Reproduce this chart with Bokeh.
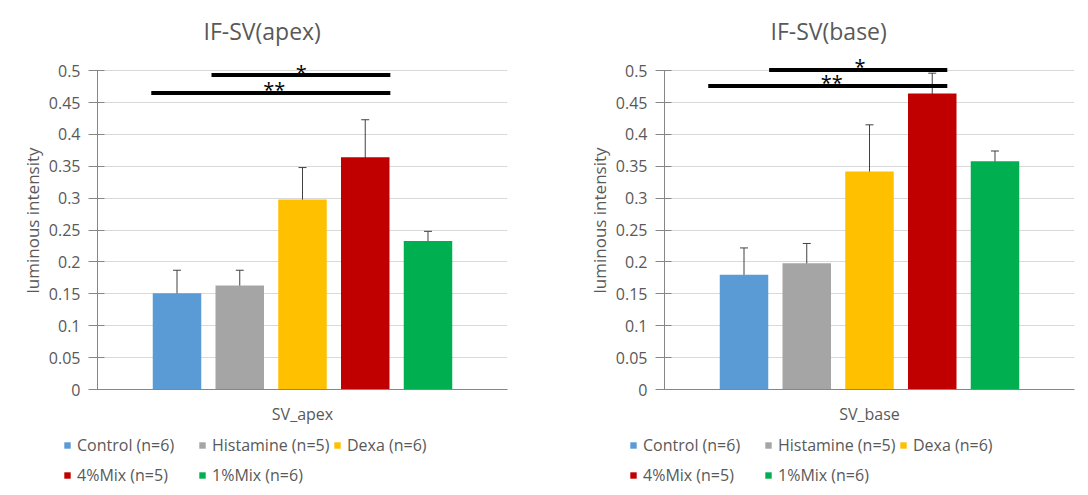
from bokeh.plotting import figure
from bokeh.layouts import row, column
from bokeh.models import (ColumnDataSource, Range1d, FixedTicker, Whisker, TeeHead,
                          Legend, LegendItem, CustomJSTickFormatter)
from bokeh.core.properties import value
from bokeh.embed import file_html
from bokeh.resources import INLINE

# ---------------- data ----------------
groups = ["Control (n=6)", "Histamine (n=5)", "Dexa (n=6)", "4%Mix (n=5)", "1%Mix (n=6)"]
colors = ["#5B9BD5", "#A5A5A5", "#FFC000", "#C00000", "#00B050"]
positions = [1, 2, 3, 4, 5]

apex_mean = [0.151, 0.163, 0.298, 0.364, 0.233]
apex_err = [0.036, 0.024, 0.050, 0.059, 0.015]
base_mean = [0.180, 0.198, 0.342, 0.464, 0.358]
base_err = [0.042, 0.031, 0.073, 0.032, 0.016]

y_ticks = [0, 0.05, 0.1, 0.15, 0.2, 0.25, 0.3, 0.35, 0.4, 0.45, 0.5]
y_tick_labels = ["0", "0.05", "0.1", "0.15", "0.2", "0.25", "0.3", "0.35", "0.4", "0.45", "0.5"]

# significance brackets (group-axis units / value units)
apex_sig_text = ["*", "**"]
apex_sig_start = [1.55, 0.59]
apex_sig_end = [4.40, 4.40]
apex_sig_y = [0.493, 0.465]
apex_star_x = [2.98, 2.55]

base_sig_text = ["*", "**"]
base_sig_start = [1.40, 0.43]
base_sig_end = [4.24, 4.24]
base_sig_y = [0.501, 0.476]
base_star_x = [2.85, 2.40]

FONT = "Open Sans"
GREY = "#595959"
AXIS = "#868686"


def make_source(means, errs):
    return ColumnDataSource(dict(
        x=positions, top=means,
        upper=[m + e for m, e in zip(means, errs)],
        lower=[m - e for m, e in zip(means, errs)],
        color=colors,
    ))


def make_chart(title, xlabel, src, sig_text, sig_start, sig_end, sig_y, star_x,
               border_left, border_right):
    width = border_left + 410 + border_right
    p = figure(width=width, height=430,
               min_border_left=border_left, min_border_right=border_right,
               min_border_top=51, min_border_bottom=41,
               x_range=Range1d(-0.267, 6.267), y_range=Range1d(0, 0.53),
               output_backend="svg", toolbar_location=None, title=title)
    p.outline_line_color = None

    p.title.text_font = FONT
    p.title.text_font_size = "23px"
    p.title.text_font_style = "normal"
    p.title.text_color = GREY
    p.title.align = "left"
    p.title.offset = 106

    # y axis
    ya = p.yaxis[0]
    ya.bounds = (0, 0.5)
    ya.ticker = FixedTicker(ticks=y_ticks)
    ya.formatter = CustomJSTickFormatter(code="return String(tick)")
    ya.major_label_overrides = {t: l for t, l in zip(y_ticks, y_tick_labels)}
    ya.minor_tick_line_color = None
    ya.major_tick_in = 7
    ya.major_tick_out = 9
    ya.major_label_standoff = 8
    ya.axis_line_color = AXIS
    ya.major_tick_line_color = AXIS
    ya.major_label_text_font = FONT
    ya.major_label_text_font_size = "16px"
    ya.major_label_text_color = GREY
    ya.axis_label = "luminous intensity"
    ya.axis_label_text_font = FONT
    ya.axis_label_text_font_size = "17px"
    ya.axis_label_text_font_style = "normal"
    ya.axis_label_text_color = GREY
    ya.axis_label_standoff = 2

    # x axis
    xa = p.xaxis[0]
    xa.ticker = FixedTicker(ticks=[])
    xa.major_tick_out = 0
    xa.major_tick_in = 0
    xa.minor_tick_line_color = None
    xa.major_label_standoff = 0
    xa.axis_line_color = AXIS
    xa.axis_label = xlabel
    xa.axis_label_text_font = FONT
    xa.axis_label_text_font_size = "16px"
    xa.axis_label_text_font_style = "normal"
    xa.axis_label_text_color = GREY
    xa.axis_label_standoff = 13

    p.xgrid.grid_line_color = None
    p.ygrid.ticker = FixedTicker(ticks=y_ticks)
    p.ygrid.grid_line_color = "#D9D9D9"

    p.vbar(x="x", top="top", width=0.773, fill_color="color", line_color=None, source=src)

    wh = Whisker(base="x", upper="upper", lower="lower", source=src,
                 line_color="#404040", line_width=1,
                 upper_head=TeeHead(size=8, line_color="#404040", line_width=1),
                 lower_head=TeeHead(size=8, line_color="#404040", line_width=1))
    p.add_layout(wh)

    p.segment(x0=sig_start, y0=sig_y, x1=sig_end, y1=sig_y,
              line_width=4, line_color="black", line_cap="butt")
    p.text(x=star_x, y=sig_y, text=sig_text, text_font=value(FONT),
           text_font_size="20px", text_color="black",
           text_align="center", text_baseline="middle", y_offset=-3)
    return p


src_apex = make_source(apex_mean, apex_err)
src_base = make_source(base_mean, base_err)

p1 = make_chart("IF-SV(apex)", "SV_apex", src_apex,
                apex_sig_text, apex_sig_start, apex_sig_end, apex_sig_y, apex_star_x, 97, 37)
p2 = make_chart("IF-SV(base)", "SV_base", src_base,
                base_sig_text, base_sig_start, base_sig_end, base_sig_y, base_star_x, 120, 6)

# legend strip underneath both charts (its key glyphs sit outside the visible range)
lg = figure(width=1080, height=57,
            min_border_left=0, min_border_right=0, min_border_top=0, min_border_bottom=0,
            x_range=Range1d(0, 6), y_range=Range1d(1, 2),
            x_axis_location=None, y_axis_location=None,
            output_backend="svg", toolbar_location=None)
lg.outline_line_color = None
lg.grid.grid_line_color = None


def add_legend(src, dx):
    key = lg.vbar(x="x", top="top", width=0.773, fill_color="color", line_color=None, source=src)
    items = [LegendItem(label=value(g), renderers=[key], index=i) for i, g in enumerate(groups)]
    legend = Legend(items=items, location=(dx, -3), orientation="horizontal", ncols=3,
                    glyph_width=8, glyph_height=8, label_standoff=6, label_width=121,
                    label_height=30, spacing=0, padding=0, margin=0,
                    border_line_color=None, background_fill_alpha=0,
                    label_text_font=FONT, label_text_font_size="16px",
                    label_text_color=GREY)
    lg.add_layout(legend, "center")


add_legend(src_apex, 63)
add_legend(src_base, 629)

layout = column(row(p1, p2, spacing=0), lg, spacing=0)
open("out.html", "w").write(file_html(layout, INLINE))
